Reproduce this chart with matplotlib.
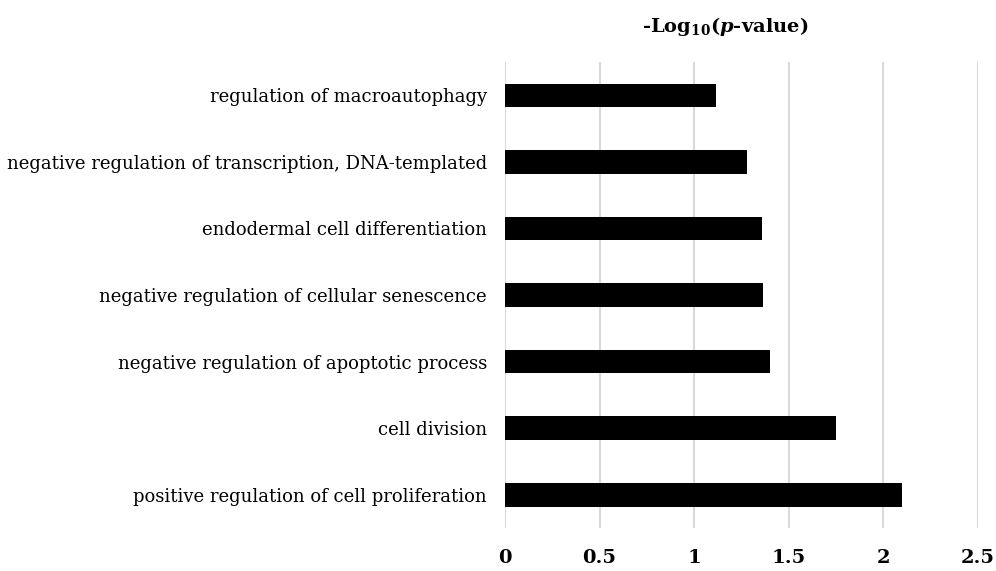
import matplotlib.pyplot as plt

terms = ['positive regulation of cell proliferation',
         'cell division',
         'negative regulation of apoptotic process',
         'negative regulation of cellular senescence',
         'endodermal cell differentiation',
         'negative regulation of transcription, DNA-templated',
         'regulation of macroautophagy']
log_p = [2.10, 1.747, 1.40, 1.365, 1.356, 1.277, 1.113]

plt.rcParams['font.family'] = 'DejaVu Serif'
plt.rcParams['mathtext.fontset'] = 'custom'
plt.rcParams['mathtext.rm'] = 'DejaVu Serif:bold'
plt.rcParams['mathtext.it'] = 'DejaVu Serif:italic:bold'
plt.rcParams['mathtext.bf'] = 'DejaVu Serif:bold'

fig = plt.figure(figsize=(9.96, 5.71), dpi=100)
ax = fig.add_axes([0.507, 0.0753, 0.475, 0.816])

ax.barh(range(len(terms)), log_p, height=0.355, color='black', zorder=3)
ax.set_yticks(range(len(terms)))
ax.set_yticklabels(terms, fontsize=13)
ax.set_ylim(-0.5, len(terms) - 0.5)
ax.set_xlim(0, 2.5)
ax.set_xticks([0, 0.5, 1, 1.5, 2, 2.5])
ax.set_xticklabels(['0', '0.5', '1', '1.5', '2', '2.5'], fontsize=14, fontweight='bold')
ax.tick_params(axis='y', length=0, pad=13)
ax.tick_params(axis='x', length=0, pad=15)
ax.grid(axis='x', color='#d9d9d9', linewidth=1.5, zorder=0)
ax.set_axisbelow(True)
for s in ax.spines.values():
    s.set_visible(False)

fig.text(725 / 996, 1 - 27 / 571, r'-Log$_{10}$($\mathit{p}$-value)', fontsize=14,
         fontweight='bold', ha='center', va='center')

fig.savefig('out.png', dpi=100)
